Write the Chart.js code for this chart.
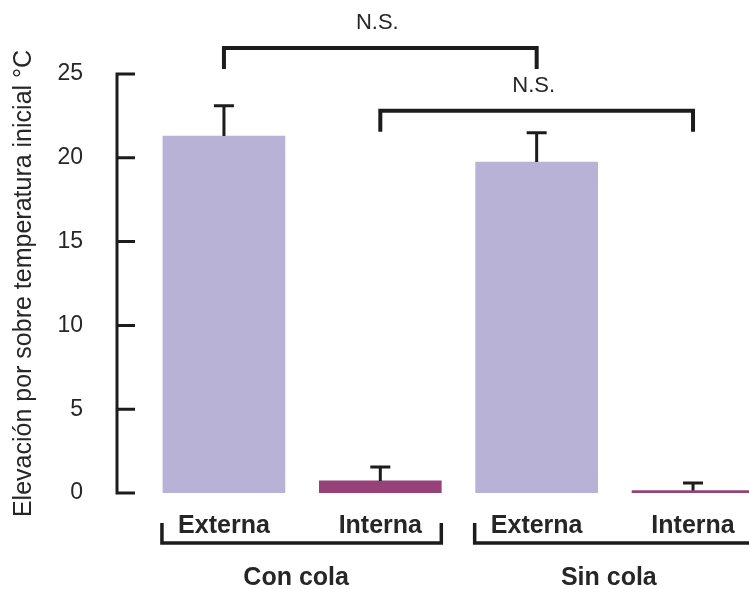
<!DOCTYPE html>
<html>
<head>
<meta charset="utf-8">
<script src="https://cdn.jsdelivr.net/npm/chart.js@4/dist/chart.umd.min.js"></script>
<style>
    body { margin: 0; background: #fff; overflow: hidden; }
</style>
</head>
<body>
<canvas id="tempChart" width="749" height="589"></canvas>
<script>
// datos
const barLabels = ['Externa', 'Interna', 'Externa', 'Interna'];
const groupLabels = ['Con cola', 'Sin cola'];
const elevacion = [21.3, 0.72, 19.75, 0.15];
const errores = [1.8, 0.83, 1.75, 0.45];
const yTicks = [0, 5, 10, 15, 20, 25];
const comparaciones = [
    { desde: 0, hasta: 2, texto: 'N.S.' },
    { desde: 1, hasta: 3, texto: 'N.S.' }
];

const ink = '#1c1c1c';
const barColors = ['#b8b2d6', '#964279', '#b8b2d6', '#964279'];

const extras = {
    id: 'extras',
    afterDraw(chart) {
        const ctx = chart.ctx;
        const ys = chart.scales.y;
        const bars = chart.getDatasetMeta(0).data;
        const left = chart.chartArea.left;

        ctx.save();
        ctx.strokeStyle = ink;
        ctx.lineWidth = 3;

        // eje y con marcas hacia adentro
        ctx.beginPath();
        ctx.moveTo(left, ys.getPixelForValue(25) - 1.5);
        ctx.lineTo(left, ys.getPixelForValue(0) + 1.5);
        yTicks.forEach(t => {
            const py = ys.getPixelForValue(t);
            ctx.moveTo(left, py);
            ctx.lineTo(left + 18, py);
        });
        ctx.stroke();

        // barras de error
        bars.forEach((bar, i) => {
            const top = ys.getPixelForValue(elevacion[i] + errores[i]);
            ctx.beginPath();
            ctx.moveTo(bar.x, bar.y);
            ctx.lineTo(bar.x, top);
            ctx.moveTo(bar.x - 10, top);
            ctx.lineTo(bar.x + 10, top);
            ctx.stroke();
        });

        // comparaciones N.S.
        ctx.lineWidth = 4;
        ctx.fillStyle = '#262626';
        ctx.font = '22px "Liberation Sans", Arial, sans-serif';
        ctx.textAlign = 'center';
        ctx.textBaseline = 'middle';
        const niveles = [26.55, 22.8];
        comparaciones.forEach((c, k) => {
            const x1 = bars[c.desde].x;
            const x2 = bars[c.hasta].x;
            const yl = ys.getPixelForValue(niveles[k]);
            ctx.beginPath();
            ctx.moveTo(x1, yl + 21);
            ctx.lineTo(x1, yl);
            ctx.lineTo(x2, yl);
            ctx.lineTo(x2, yl + 21);
            ctx.stroke();
            ctx.fillText(c.texto, (x1 + x2) / 2 - 3, yl - 25);
        });

        // grupos
        ctx.lineWidth = 3.5;
        ctx.font = 'bold 25px "Liberation Sans", Arial, sans-serif';
        const yb = ys.getPixelForValue(0) + 50;
        groupLabels.forEach((g, k) => {
            const a = bars[k * 2];
            const b = bars[k * 2 + 1];
            const x1 = a.x - a.width / 2 - 1;
            const x2 = b.x + b.width / 2;
            ctx.beginPath();
            ctx.moveTo(x1, yb - 20);
            ctx.lineTo(x1, yb);
            ctx.lineTo(x2, yb);
            ctx.lineTo(x2, yb - 20);
            ctx.stroke();
            ctx.fillText(g, (a.x + b.x) / 2 - 6, yb + 35);
        });
        ctx.restore();
    }
};

const ctx = document.getElementById('tempChart').getContext('2d');
const tempChart = new Chart(ctx, {
    type: 'bar',
    data: {
        datasets: [{
            data: elevacion.map((v, i) => ({ x: i + 1, y: v })),
            backgroundColor: barColors,
            borderWidth: 0,
            barThickness: 122
        }]
    },
    options: {
        responsive: false,
        animation: false,
        events: [],
        layout: { padding: { top: 74, right: 0, left: 0, bottom: 0 } },
        plugins: {
            legend: { display: false },
            tooltip: { enabled: false }
        },
        scales: {
            x: {
                type: 'linear',
                offset: false,
                min: 0.316,
                max: 4.358,
                grid: { display: false },
                border: { display: false },
                afterBuildTicks: s => { s.ticks = barLabels.map((_, i) => ({ value: i + 1 })); },
                afterFit: s => { s.height = 96; },
                ticks: {
                    autoSkip: false,
                    maxRotation: 0,
                    padding: 10,
                    color: '#262626',
                    font: { family: '"Liberation Sans", Arial, sans-serif', size: 25, weight: 'bold' },
                    callback: v => barLabels[v - 1] || ''
                }
            },
            y: {
                min: 0,
                max: 25,
                grid: { display: false },
                border: { display: false },
                afterFit: s => { s.width = 117; },
                ticks: {
                    stepSize: 5,
                    padding: 26,
                    color: '#262626',
                    font: { family: '"Liberation Sans", Arial, sans-serif', size: 23 }
                },
                title: {
                    display: true,
                    text: 'Elevación por sobre temperatura inicial °C',
                    color: '#262626',
                    padding: { top: 9, bottom: 0 },
                    font: { family: '"Liberation Sans", Arial, sans-serif', size: 25 }
                }
            }
        }
    },
    plugins: [extras]
});
</script>
</body>
</html>
